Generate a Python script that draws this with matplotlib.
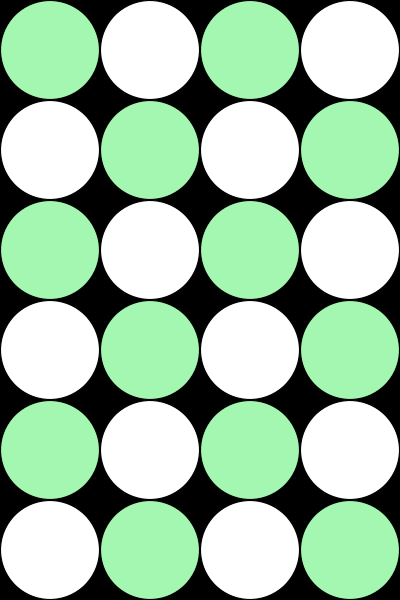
import matplotlib
matplotlib.use("Agg")
import matplotlib.pyplot as plt
from matplotlib.patches import Circle

# grid pattern: 1 = green, 0 = white (top row first)
pattern = [
    [1, 0, 1, 0],
    [0, 1, 0, 1],
    [1, 0, 1, 0],
    [0, 1, 0, 1],
    [1, 0, 1, 0],
    [0, 1, 0, 1],
]
colors = {1: "#a3f7b0", 0: "#ffffff"}

nrows = len(pattern)
ncols = len(pattern[0])

fig = plt.figure(figsize=(4, 6), dpi=100, facecolor="black")
ax = fig.add_axes([0, 0, 1, 1])
ax.set_facecolor("black")
ax.set_xlim(0, ncols)
ax.set_ylim(nrows, 0)
ax.set_aspect("equal")
ax.axis("off")

for r, row in enumerate(pattern):
    for c, v in enumerate(row):
        ax.add_patch(Circle((c + 0.5, r + 0.5), 0.495, facecolor=colors[v],
                            edgecolor="black", linewidth=0.8))

fig.savefig("out.png", dpi=100, facecolor="black")
